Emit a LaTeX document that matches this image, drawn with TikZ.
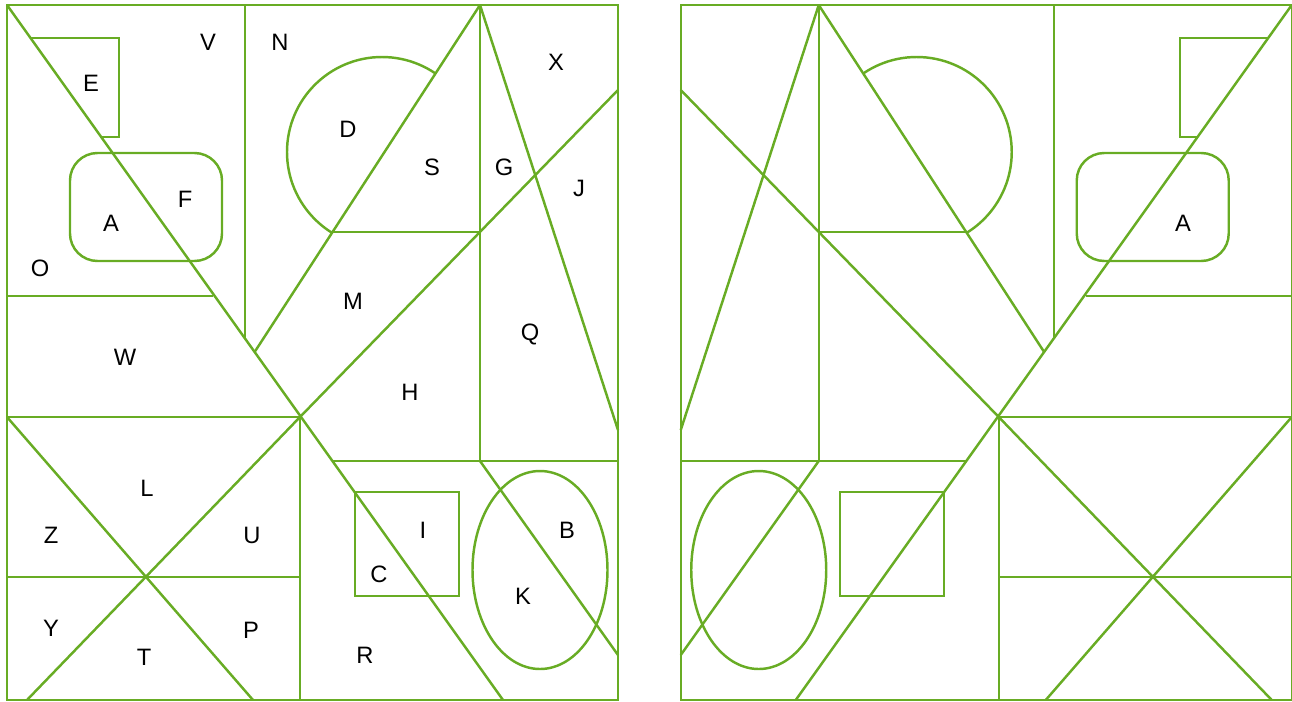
\documentclass[tikz,border=0pt]{standalone}
\usepackage{fontspec}
\setmainfont{Liberation Sans}
\usepackage{xcolor}
\usepackage{tikz}
\definecolor{piece}{RGB}{104,172,36}

% all cuts of one panel, in pixel units
\newcommand{\puzzlepanel}{%
    % frame
    \draw [cut] (7,5) rectangle (618,700);
    % upper left block
    \draw [cut] (245,5) -- (245,339);
    \draw [cut] (7,296) -- (213,296);
    \draw [cut] (7,5) -- (503,700);
    \draw [cut] (30.5,38) -- (119,38) -- (119,137) -- (101.2,137);
    \draw [cut, rounded corners=0.55cm] (70,153) rectangle (222,261);
    % lines from the apex
    \draw [cut] (480,5) -- (254.6,352);
    \draw [cut] (480,5) -- (480,461);
    \draw [cut] (480,5) -- (618,430);
    \draw [cut] (332.6,232) -- (480,232);
    \draw [cut] (618,90) -- (300,417);
    % half disc
    \begin{scope}
        \clip (548.2,-100) -- (223.5,400) -- (0,400) -- (0,-100) -- cycle;
        \draw [cut] (382,152) circle [radius=95];
    \end{scope}
    % lower right block
    \draw [cut] (332.5,461) -- (618,461);
    \draw [cut] (480,461) -- (618,655);
    \draw [cut] (355,492) rectangle (459,596);
    \draw [cut] (540,570) ellipse [x radius=67.5, y radius=99];
    % lower left block
    \draw [cut] (7,417) -- (300,417) -- (300,700);
    \draw [cut] (7,577) -- (300,577);
    \draw [cut] (7,417) -- (253,700);
    \draw [cut] (300,417) -- (27,700);
}

\begin{document}
\begin{tikzpicture}[x=0.02cm, y=-0.02cm]
    % Define styles
    \tikzstyle{cut} = [draw=piece, line width=1.4pt]
    \tikzstyle{letter} = [font=\fontsize{13.5}{15}\selectfont, text=black, inner sep=0pt]

    \useasboundingbox (0,0) rectangle (1292,701);

    % Panels
    \puzzlepanel
    \begin{scope}[xshift=25.98cm, xscale=-1]
        \puzzlepanel
    \end{scope}

    % Labels
    \node (V) [letter] at (208,42) {V};
    \node (N) [letter] at (280,42) {N};
    \node (E) [letter] at (91,83) {E};
    \node (F) [letter] at (185,199) {F};
    \node (A) [letter] at (111,223) {A};
    \node (O) [letter] at (40,268) {O};
    \node (D) [letter] at (348,129) {D};
    \node (S) [letter] at (432,167) {S};
    \node (G) [letter] at (504,167) {G};
    \node (X) [letter] at (556,62) {X};
    \node (J) [letter] at (579,188) {J};
    \node (M) [letter] at (353,301) {M};
    \node (W) [letter] at (125,357) {W};
    \node (Q) [letter] at (530,334) {Q};
    \node (H) [letter] at (410,392) {H};
    \node (L) [letter] at (147,488) {L};
    \node (Z) [letter] at (51,535) {Z};
    \node (U) [letter] at (252,535) {U};
    \node (I) [letter] at (423,530) {I};
    \node (B) [letter] at (567,530) {B};
    \node (C) [letter] at (379,574) {C};
    \node (K) [letter] at (523,596) {K};
    \node (Y) [letter] at (51,628) {Y};
    \node (T) [letter] at (144,657) {T};
    \node (P) [letter] at (251,630) {P};
    \node (R) [letter] at (365,655) {R};
    \node (A2) [letter] at (1183,223) {A};
\end{tikzpicture}
\end{document}
